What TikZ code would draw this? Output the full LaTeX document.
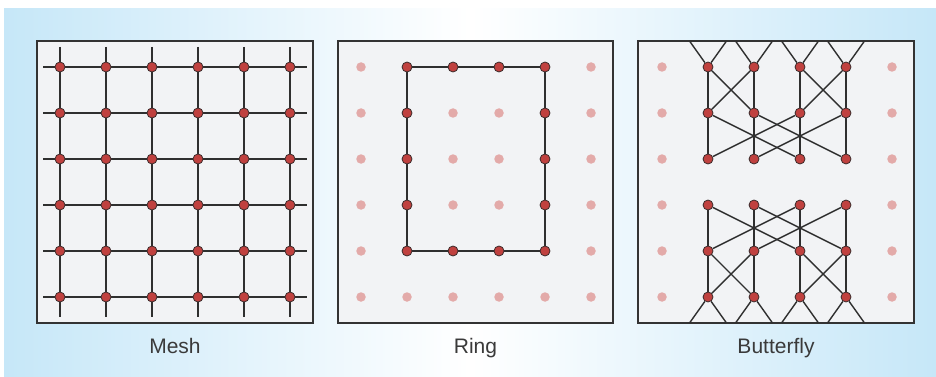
\documentclass[tikz,border=0pt]{standalone}
\usepackage{fontspec}
\setmainfont{Liberation Sans}

\pgfdeclarelayer{bg}
\pgfdeclarelayer{wires}
\pgfsetlayers{bg,wires,main}

\definecolor{bgblue}{HTML}{C6E7F8}
\definecolor{panelfill}{HTML}{F2F3F5}
\definecolor{framecol}{HTML}{333333}
\definecolor{nodered}{HTML}{C0413F}
\definecolor{nodeedge}{HTML}{3B2B2B}
\definecolor{paledot}{HTML}{E3AAA9}
\definecolor{wirecol}{HTML}{2F2F2F}
\definecolor{labelcol}{HTML}{3A3A3A}

\tikzset{
  panel/.style={draw=framecol, fill=panelfill, line width=1.8pt},
  pe/.style={circle, fill=nodered, draw=nodeedge, line width=0.8pt,
             minimum size=10pt, inner sep=0pt},
  idle/.style={circle, fill=paledot, minimum size=9.5pt, inner sep=0pt},
  wire/.style={draw=wirecol, line width=1.4pt},
  caption/.style={font=\fontsize{21}{25}\selectfont, text=labelcol, anchor=base},
}

\begin{document}
\begin{tikzpicture}[x=1pt,y=-1pt]
\useasboundingbox (0,0) rectangle (936,377);

% backdrop and the three frames
\begin{pgfonlayer}{bg}
  \shade[left color=bgblue, right color=bgblue, middle color=white]
    (4,9) rectangle (936,377);
  \draw[panel] (37,41) rectangle (313,323);
  \draw[panel] (338,41) rectangle (613,323);
  \draw[panel] (638,41) rectangle (914,323);
\end{pgfonlayer}

% ---------------- Mesh ----------------
\foreach \i in {0,...,5}
  \foreach \j in {0,...,5}
    \node[pe] (m-\i-\j) at ({60+46*\i},{67+46*\j}) {};

\begin{pgfonlayer}{wires}
\foreach \k in {0,...,5} {
  \coordinate (mw-\k) at (43,{67+46*\k});
  \coordinate (me-\k) at (307,{67+46*\k});
  \coordinate (mn-\k) at ({60+46*\k},47);
  \coordinate (ms-\k) at ({60+46*\k},317);
  \draw[wire] (mw-\k) -- (m-0-\k);
  \draw[wire] (m-5-\k) -- (me-\k);
  \draw[wire] (mn-\k) -- (m-\k-0);
  \draw[wire] (m-\k-5) -- (ms-\k);
  \foreach \a in {0,...,4} {
    \pgfmathtruncatemacro{\b}{\a+1}
    \draw[wire] (m-\a-\k) -- (m-\b-\k);
    \draw[wire] (m-\k-\a) -- (m-\k-\b);
  }
}
\end{pgfonlayer}

% ---------------- Ring ----------------
\foreach \i/\j in {1/0,2/0,3/0,4/0,1/1,4/1,1/2,4/2,1/3,4/3,1/4,2/4,3/4,4/4}
  \node[pe] (r-\i-\j) at ({361+46*\i},{67+46*\j}) {};
\foreach \i/\j in {0/0,0/1,0/2,0/3,0/4,0/5,5/0,5/1,5/2,5/3,5/4,5/5,
                   1/5,2/5,3/5,4/5,2/1,3/1,2/2,3/2,2/3,3/3}
  \node[idle] (rd-\i-\j) at ({361+46*\i},{67+46*\j}) {};

\begin{pgfonlayer}{wires}
\draw[wire] (r-1-0) -- (r-2-0) -- (r-3-0) -- (r-4-0);
\draw[wire] (r-4-0) -- (r-4-1) -- (r-4-2) -- (r-4-3) -- (r-4-4);
\draw[wire] (r-4-4) -- (r-3-4) -- (r-2-4) -- (r-1-4);
\draw[wire] (r-1-4) -- (r-1-3) -- (r-1-2) -- (r-1-1) -- (r-1-0);
\end{pgfonlayer}

% ---------------- Butterfly ----------------
\foreach \i in {1,...,4}
  \foreach \j in {0,...,5}
    \node[pe] (b-\i-\j) at ({662+46*\i},{67+46*\j}) {};
\foreach \i in {0,5}
  \foreach \j in {0,...,5}
    \node[idle] (bd-\i-\j) at ({662+46*\i},{67+46*\j}) {};

\begin{pgfonlayer}{wires}
\foreach \i in {1,...,4} {
  \coordinate (bnl-\i) at ({662+46*\i-18.5},41);
  \coordinate (bnr-\i) at ({662+46*\i+18.5},41);
  \coordinate (bsl-\i) at ({662+46*\i-18.5},323);
  \coordinate (bsr-\i) at ({662+46*\i+18.5},323);
  \draw[wire] (bnl-\i) -- (b-\i-0) -- (bnr-\i);
  \draw[wire] (bsl-\i) -- (b-\i-5) -- (bsr-\i);
  \draw[wire] (b-\i-0) -- (b-\i-1) -- (b-\i-2);
  \draw[wire] (b-\i-3) -- (b-\i-4) -- (b-\i-5);
}
% stage crossings: span 1, span 2 (upper) and span 2, span 1 (lower)
\foreach \p/\q in {1/2,2/1,3/4,4/3} {
  \draw[wire] (b-\p-0) -- (b-\q-1);
  \draw[wire] (b-\p-4) -- (b-\q-5);
}
\foreach \p/\q in {1/3,3/1,2/4,4/2} {
  \draw[wire] (b-\p-1) -- (b-\q-2);
  \draw[wire] (b-\p-3) -- (b-\q-4);
}
\end{pgfonlayer}

% captions
\node[caption] (lab-mesh) at (175,353) {Mesh};
\node[caption] (lab-ring) at (475.5,353) {Ring};
\node[caption] (lab-fly) at (776,353) {Butterfly};
\end{tikzpicture}
\end{document}
